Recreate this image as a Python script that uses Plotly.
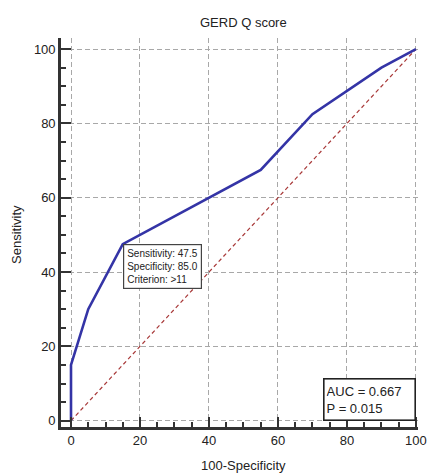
import plotly.graph_objects as go

# ROC curve data (100-Specificity vs Sensitivity)
fpr = [0, 0, 5, 15, 55, 70, 90, 100]
tpr = [0, 15, 30, 47.5, 67.5, 82.5, 95, 100]
diag_x = [0, 100]
diag_y = [0, 100]
ticks = [0, 20, 40, 60, 80, 100]

title_text = "GERD Q score"
x_title = "100-Specificity"
y_title = "Sensitivity"
point_label = "Sensitivity: 47.5<br>Specificity: 85.0<br>Criterion: >11"
point_xy = (15, 47.5)
auc_label = "AUC = 0.667<br>P = 0.015"

FONT = "Liberation Sans, Arial, sans-serif"

fig = go.Figure()
fig.add_trace(go.Scatter(x=diag_x, y=diag_y, mode="lines",
                         line=dict(color="#a83838", width=1.2, dash="4px,3px"),
                         hoverinfo="skip", showlegend=False))
fig.add_trace(go.Scatter(x=fpr, y=tpr, mode="lines",
                         line=dict(color="#3434a6", width=2.6),
                         showlegend=False))

grid = dict(showgrid=True, gridcolor="#a8a8a8", gridwidth=1, griddash="5px,3px")
fig.update_xaxes(range=[-2.9, 100.6], tickvals=ticks, ticks="inside", ticklen=10,
                 tickwidth=2, tickcolor="#333", showline=True, linewidth=2.6,
                 linecolor="#333", zeroline=False, mirror=False, automargin=False,
                 minor=dict(dtick=5, tick0=0, ticks="inside", ticklen=5, tickwidth=1.5,
                            tickcolor="#333", showgrid=False),
                 tickfont=dict(family=FONT, size=13, color="#222"), **grid)
fig.update_yaxes(range=[-1.7, 103], tickvals=ticks, ticks="inside", ticklen=10,
                 tickwidth=2, tickcolor="#333", showline=True, linewidth=2.6,
                 linecolor="#333", zeroline=False, mirror=False, automargin=False,
                 minor=dict(dtick=5, tick0=0, ticks="inside", ticklen=5, tickwidth=1.5,
                            tickcolor="#333", showgrid=False),
                 tickfont=dict(family=FONT, size=13, color="#222"), **grid)

W, H = 427, 473
ml, mr, mt, mb = 61, 9, 38, 46
pw, ph = W - ml - mr, H - mt - mb

def px_x(p):
    return (p - ml) / pw

def px_y(p):
    return (H - mb - p) / ph

annotations = [
    dict(text=title_text, xref="paper", yref="paper", x=px_x(243), y=px_y(22),
         showarrow=False, font=dict(family=FONT, size=13, color="#222"),
         xanchor="center", yanchor="middle"),
    dict(text=x_title, xref="paper", yref="paper", x=px_x(243), y=px_y(465),
         showarrow=False, font=dict(family=FONT, size=13, color="#222"),
         xanchor="center", yanchor="middle"),
    dict(text=y_title, xref="paper", yref="paper", x=px_x(16), y=px_y(235),
         showarrow=False, textangle=-90, font=dict(family=FONT, size=13, color="#222"),
         xanchor="center", yanchor="middle"),
    dict(text=point_label, xref="x", yref="y", x=point_xy[0], y=point_xy[1],
         showarrow=False, xanchor="left", yanchor="top", align="left",
         font=dict(family=FONT, size=10, color="#222"),
         bgcolor="white", bordercolor="#444", borderwidth=1.2, borderpad=3),
    dict(text=auc_label, xref="x", yref="y", x=100, y=0,
         showarrow=False, xanchor="right", yanchor="bottom", align="left",
         width=86, height=36,
         font=dict(family=FONT, size=13, color="#222"),
         bgcolor="white", bordercolor="#222", borderwidth=1.6, borderpad=2),
]

fig.update_layout(width=W, height=H, margin=dict(l=ml, r=mr, t=mt, b=mb),
                  plot_bgcolor="white", paper_bgcolor="white",
                  annotations=annotations, showlegend=False)

fig.write_html("out.html", config={"displayModeBar": False},
               post_script="document.body.style.margin='0';document.body.style.padding='0';document.body.style.overflow='hidden';")
